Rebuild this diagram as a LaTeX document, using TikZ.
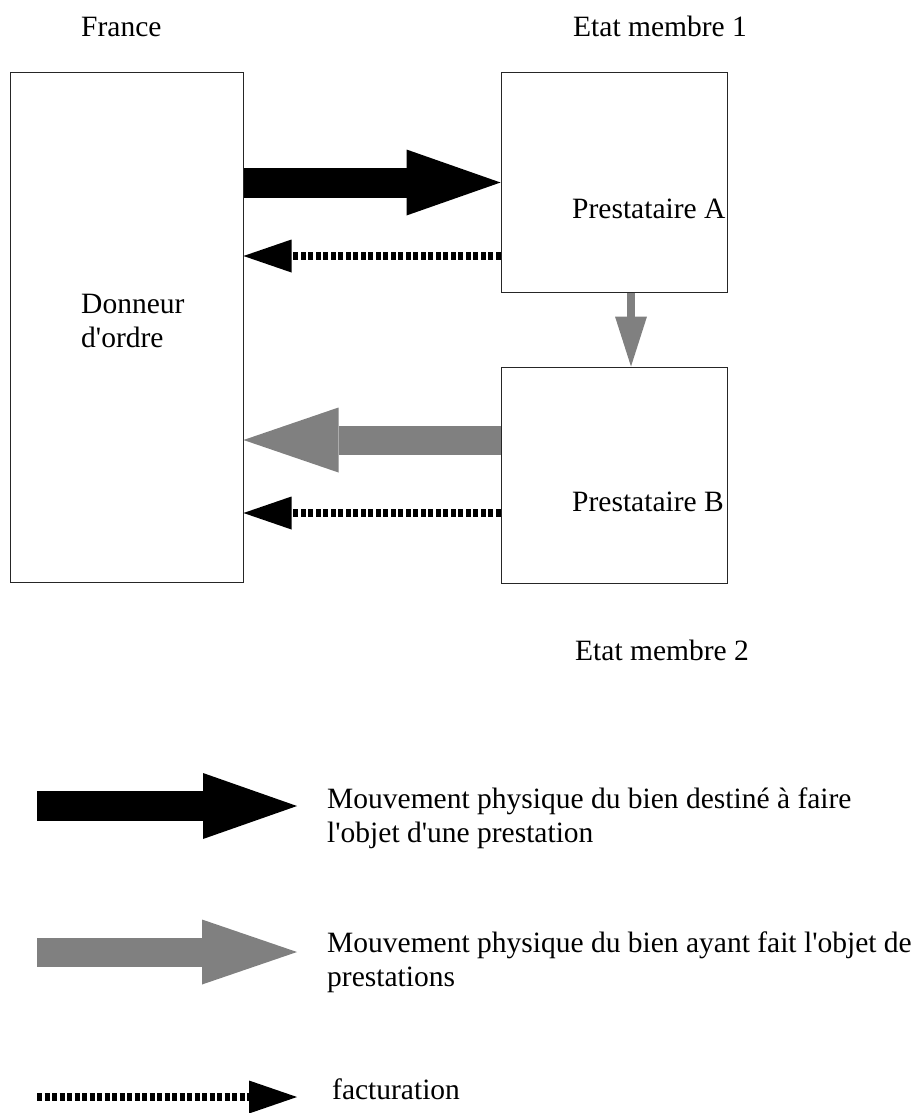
\documentclass[tikz,border=0pt]{standalone}
\usepackage{fontspec}
\setmainfont{Liberation Serif}
\usetikzlibrary{arrows.meta}

\tikzset{
	box/.style={draw=black!85, line width=1pt, inner sep=0pt, rectangle},
	label/.style={anchor=base west, align=left, inner sep=0pt},
	fatblack/.style={line width=30pt, black, -{Triangle[length=94pt, width=66pt, line width=0pt]}},
	fatgray/.style={line width=29pt, gray, -{Triangle[length=95pt, width=65pt, line width=0pt]}},
	thingray/.style={line width=8pt, gray, -{Triangle[length=50pt, width=32pt, line width=0pt]}},
	billing/.style={line width=8pt, black, dash pattern=on 5pt off 2.5pt, -{Triangle[length=48pt, width=33pt, line width=0pt]}}
}

\begin{document}
\begin{tikzpicture}[x=1pt, y=-1pt, every node/.style={font=\fontsize{29.5}{34}\selectfont}]
		\useasboundingbox (0,0) rectangle (916,1113);
		
		% Boxes
		\node[box, minimum width=233pt, minimum height=509pt] (donneur) at (126.5, 327.5) {};
		\node[box, minimum width=226pt, minimum height=219pt] (prestA) at (614, 182.5) {};
		\node[box, minimum width=226pt, minimum height=216pt] (prestB) at (614, 475) {};
		
		% Texts (base = last line)
		\node[label] (france) at (81, 37) {France};
		\node[label] (etat1) at (573, 37) {Etat membre 1};
		\node[label] (etat2) at (575, 660) {Etat membre 2};
		\node[label] (donneurtext) at (81, 347) {Donneur\\d\textquotesingle ordre};
		\node[label] (prestAtext) at (572, 218) {Prestataire A};
		\node[label] (prestBtext) at (572, 511) {Prestataire B};
		
		% Coordinates
		\coordinate (billA) at ([yshift=-73.5pt]prestA.west);
		\coordinate (backB) at ([yshift=35pt]prestB.west);
		\coordinate (billB) at ([yshift=-38pt]prestB.west);
		\coordinate (downA) at ([xshift=17pt]prestA.south);
		\coordinate (downB) at ([xshift=17pt]prestB.north);
		
		% Flows
		\draw[fatblack] (donneur.east |- prestA.west) -- (prestA.west);
		\draw[billing] (billA) -- (billA -| donneur.east);
		\draw[thingray] (downA) -- (downB);
		\draw[fatgray] (backB) -- (backB -| donneur.east);
		\draw[billing] (billB) -- (billB -| donneur.east);
		
		% Legend
		\coordinate (L_1) at (37, 806);
		\coordinate (R_1) at (297, 806);
		\coordinate (L_2) at (37, 952);
		\coordinate (R_2) at (297, 952);
		\coordinate (L_3) at (37, 1097);
		\coordinate (R_3) at (297, 1097);
		
		\draw[fatblack] (L_1) -- (R_1);
		\draw[fatgray] (L_2) -- (R_2);
		\draw[billing] (L_3) -- (R_3);
		
		\node[label] (legend1) at (327, 842) {Mouvement physique du bien destiné à faire\\l\textquotesingle objet d\textquotesingle une prestation};
		\node[label] (legend2) at (327, 986) {Mouvement physique du bien ayant fait l\textquotesingle objet de\\prestations};
		\node[label] (legend3) at (332, 1099) {facturation};
	\end{tikzpicture}
\end{document}
